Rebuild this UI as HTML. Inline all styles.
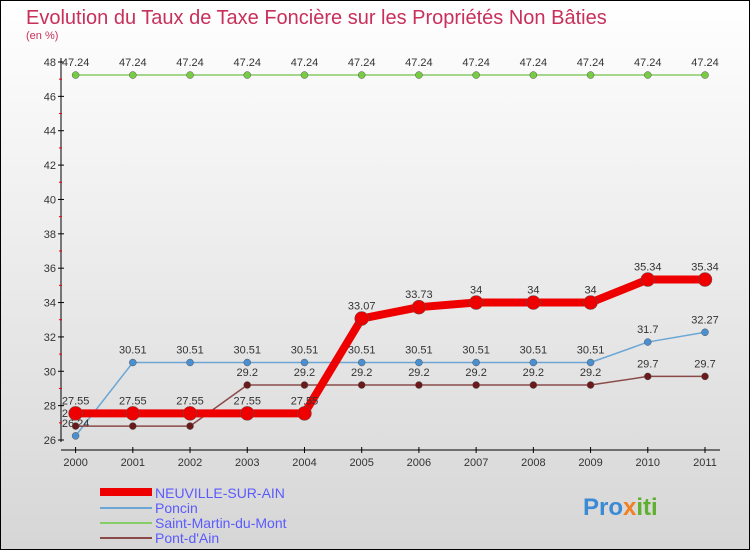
<!DOCTYPE html>
<html><head><meta charset="utf-8"><style>
body{margin:0;}
svg{display:block;font-family:"Liberation Sans",sans-serif;}
</style></head><body>
<svg width="750" height="550" xmlns="http://www.w3.org/2000/svg">
<defs><linearGradient id="bg" x1="0" y1="0" x2="0" y2="1"><stop offset="0" stop-color="#ffffff"/><stop offset="1" stop-color="#d6d6d6"/></linearGradient></defs>
<rect x="0.5" y="0.5" width="749" height="549" fill="url(#bg)" stroke="#000"/>
<text x="26" y="24" font-size="20" fill="#c8305a">Evolution du Taux de Taxe Foncière sur les Propriétés Non Bâties</text>
<text x="26" y="39" font-size="11" fill="#c8305a">(en %)</text>
<g id="axes"></g>
<g id="series"></g>
<g id="legend">
<rect x="100" y="488" width="52" height="8" fill="#e00"/>
<text x="155" y="498" font-size="14" fill="#5a5aff">NEUVILLE-SUR-AIN</text>
<line x1="100" y1="508" x2="152" y2="508" stroke="#6aa6d6" stroke-width="2"/>
<text x="155" y="513" font-size="14" fill="#5a5aff">Poncin</text>
<line x1="100" y1="523" x2="152" y2="523" stroke="#88cc66" stroke-width="2"/>
<text x="155" y="528" font-size="14" fill="#5a5aff">Saint-Martin-du-Mont</text>
<line x1="100" y1="538" x2="152" y2="538" stroke="#8b4a4a" stroke-width="2"/>
<text x="155" y="543" font-size="14" fill="#5a5aff">Pont-d'Ain</text>
</g>
<text x="583" y="515" font-size="24" font-weight="bold" fill="#3a8ad6">Pro<tspan fill="#f08020">x</tspan><tspan fill="#60b030">iti</tspan></text>
</svg>
<script>
const years=[2000,2001,2002,2003,2004,2005,2006,2007,2008,2009,2010,2011];
const yTicks=[26,28,30,32,34,36,38,40,42,44,46,48];
const neuville=[27.55,27.55,27.55,27.55,27.55,33.07,33.73,34,34,34,35.34,35.34];
const poncin=[26.24,30.51,30.51,30.51,30.51,30.51,30.51,30.51,30.51,30.51,31.7,32.27];
const saintMartin=[47.24,47.24,47.24,47.24,47.24,47.24,47.24,47.24,47.24,47.24,47.24,47.24];
const pontDain=[26.81,26.81,26.81,29.2,29.2,29.2,29.2,29.2,29.2,29.2,29.7,29.7];
const NS="http://www.w3.org/2000/svg";
function xS(i){return 75.6+i*(705-75.6)/(years.length-1);}
function yS(v){return 440-(v-26)*(440-62)/22;}
function mk(t,a,p){const e=document.createElementNS(NS,t);for(const k in a)e.setAttribute(k,a[k]);p.appendChild(e);return e;}
const ax=document.getElementById('axes');
const yl=mk('line',{x1:61,y1:58,x2:61,y2:442,stroke:'#000'},ax);


const xl=mk('line',{x1:61,y1:450,x2:720,y2:450,stroke:'#000'},ax);


yTicks.forEach(v=>{
 mk('line',{x1:58,y1:yS(v),x2:64,y2:yS(v),stroke:'#000'},ax);
 if(v<48) mk('line',{x1:59,y1:yS(v+1),x2:62,y2:yS(v+1),stroke:'#e00'},ax);
 const t=mk('text',{x:56,y:yS(v)+4,'font-size':11,fill:'#333','text-anchor':'end'},ax);t.textContent=v;
 
 
});
years.forEach((y,i)=>{
 mk('line',{x1:xS(i),y1:447,x2:xS(i),y2:453,stroke:'#000'},ax);
 const t=mk('text',{x:xS(i),y:466,'font-size':11,fill:'#333','text-anchor':'middle'},ax);t.textContent=y;
 
 
});
const sg=document.getElementById('series');
function series(vals,color,lw,r,name,dotColor){
 const g=mk('g',{},sg);
 
 
 mk('polyline',{points:vals.map((v,i)=>xS(i)+','+yS(v)).join(' '),fill:'none',stroke:color,'stroke-width':lw,'stroke-linejoin':'round'},g);
 vals.forEach((v,i)=>{
  const c=mk('circle',{cx:xS(i),cy:yS(v),r:r,fill:dotColor,stroke:'#555','stroke-width':0.5},g);
  
  
  const t=mk('text',{x:xS(i),y:yS(v)-9,'font-size':11,fill:'#333','text-anchor':'middle'},g);t.textContent=v;
  
  
 });
}
series(saintMartin,'#88cc66',1.5,3.5,'series-saint-martin','#77cc44');
series(poncin,'#6aa6d6',1.5,3.5,'series-poncin','#4a90d0');
series(pontDain,'#8b4a4a',1.5,3.5,'series-pont-dain','#6a1a1a');
series(neuville,'#ee0000',8,7,'series-neuville','#ee0000');
</script>
</body></html>
